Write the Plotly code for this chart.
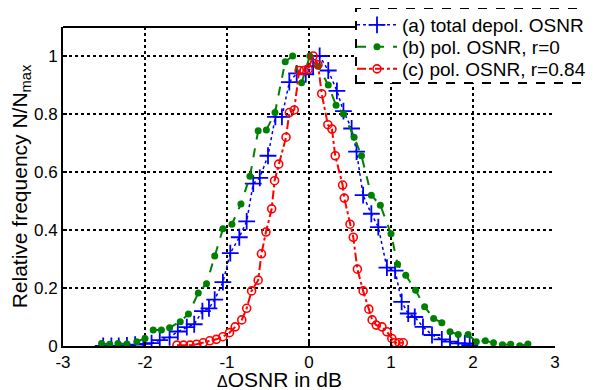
import plotly.graph_objects as go

# (a) total depol. OSNR
a_x = [-2.51, -2.41, -2.32, -2.22, -2.12, -2.02, -1.92, -1.82, -1.70, -1.60, -1.49, -1.40,
       -1.30, -1.22, -1.15, -1.05, -0.96, -0.85, -0.76, -0.68, -0.60, -0.50, -0.41, -0.33,
       -0.24, -0.15, -0.04, 0.05, 0.13, 0.235, 0.34, 0.42, 0.52, 0.58, 0.66, 0.76, 0.845,
       0.95, 1.05, 1.13, 1.21, 1.29, 1.39, 1.50, 1.62, 1.72, 1.82, 1.90, 1.96]
a_y = [0.0, 0.0, 0.0, 0.002, 0.005, 0.007, 0.01, 0.02, 0.03, 0.05, 0.065, 0.075,
       0.12, 0.13, 0.16, 0.22, 0.32, 0.375, 0.43, 0.56, 0.58, 0.656, 0.79, 0.79,
       0.91, 0.94, 0.937, 0.965, 1.0, 0.95, 0.88, 0.81, 0.75, 0.67, 0.52, 0.456, 0.41,
       0.27, 0.26, 0.152, 0.112, 0.10, 0.066, 0.038, 0.023, 0.015, 0.009, 0.009, 0.003]

# (b) pol. OSNR, r=0
b_x = [-2.53, -2.43, -2.33, -2.22, -2.10, -2.00, -1.90, -1.80, -1.70, -1.57, -1.47, -1.35,
       -1.25, -1.15, -1.05, -0.94, -0.83, -0.72, -0.62, -0.52, -0.415, -0.29, -0.20, -0.09,
       0.01, 0.11, 0.235, 0.33, 0.42, 0.55, 0.64, 0.76, 0.87, 1.00, 1.08, 1.18, 1.30, 1.41,
       1.52, 1.62, 1.72, 1.82, 1.94, 2.04, 2.15, 2.25, 2.36, 2.46, 2.57, 2.67]
b_y = [0.009, 0.006, 0.009, 0.007, 0.015, 0.026, 0.055, 0.055, 0.063, 0.084, 0.11, 0.183,
       0.215, 0.31, 0.404, 0.42, 0.49, 0.585, 0.742, 0.745, 0.805, 0.98, 1.0, 0.908,
       1.0, 0.965, 0.90, 0.83, 0.80, 0.72, 0.656, 0.52, 0.485, 0.387, 0.282, 0.244, 0.192, 0.135,
       0.095, 0.08, 0.049, 0.04, 0.04, 0.015, 0.018, 0.011, 0.004, 0.006, 0.001, 0.007]

# (c) pol. OSNR, r=0.84
c_x = [-1.61, -1.53, -1.45, -1.37, -1.29, -1.21, -1.13, -1.05, -0.97, -0.90, -0.82, -0.76,
       -0.70, -0.62, -0.58, -0.525, -0.455, -0.42, -0.37, -0.28, -0.24, -0.18, -0.12, -0.06,
       -0.01, 0.05, 0.11, 0.155, 0.23, 0.28, 0.32, 0.41, 0.43, 0.50, 0.54, 0.59, 0.66, 0.73,
       0.77, 0.82, 0.89, 0.95, 1.01, 1.05, 1.10, 1.15]
c_y = [0.003, 0.003, 0.003, 0.006, 0.011, 0.018, 0.023, 0.032, 0.046, 0.066, 0.09, 0.13,
       0.19, 0.227, 0.318, 0.393, 0.473, 0.57, 0.627, 0.72, 0.805, 0.814, 0.95, 0.95,
       0.954, 1.0, 0.97, 0.87, 0.763, 0.748, 0.656, 0.555, 0.51, 0.42, 0.375, 0.265, 0.19, 0.127,
       0.09, 0.072, 0.066, 0.049, 0.026, 0.011, 0.011, 0.011]

names = ["(a) total depol. OSNR", "(b) pol. OSNR, r=0", "(c) pol. OSNR, r=0.84"]
x_ticks = [-3, -2, -1, 0, 1, 2, 3]
y_ticks = [0, 0.2, 0.4, 0.6, 0.8, 1]

FONT = "Liberation Sans, Arial, sans-serif"

# The page body has an 8px margin; the figure is sized so the visible window matches.
OFF = 8
FW, FH = 594 - OFF, 390 - OFF
# plot-area geometry in window pixels
L, R, T, B = 63, 555, 27, 346
W, H = R - L, B - T
def px(x): return (x - L) / W
def py(y): return (B - y) / H

fig = go.Figure()
fig.add_trace(go.Scatter(x=a_x, y=a_y, name=names[0], mode="lines+markers", legend="legend",
                         line=dict(color="#0000ff", width=1.5, dash="dot"),
                         marker=dict(symbol="cross-thin", size=12, line=dict(color="#0000ff", width=1.8))))
fig.add_trace(go.Scatter(x=b_x, y=b_y, name=names[1], mode="lines+markers", legend="legend2",
                         line=dict(color="#008000", width=2, dash="dash"),
                         marker=dict(symbol="circle", size=7, color="#008000")))
fig.add_trace(go.Scatter(x=c_x, y=c_y, name=names[2], mode="lines+markers", legend="legend3",
                         line=dict(color="#ff0000", width=2, dash="dashdot"),
                         marker=dict(symbol="circle-open", size=8, color="#ff0000", line=dict(width=1.6))))

axis_common = dict(showgrid=True, gridcolor="black", griddash="dot", gridwidth=2,
                   zeroline=False, showline=True, linecolor="black", linewidth=2,
                   ticks="inside", ticklen=4, tickcolor="black", tickwidth=1.5,
                   tickfont=dict(family=FONT, size=17, color="black"))

leg_common = dict(xanchor="left", yanchor="middle", bgcolor="rgba(0,0,0,0)", borderwidth=0,
                  font=dict(family=FONT, size=19, color="black"), itemwidth=40)

fig.update_layout(
    width=FW, height=FH,
    margin=dict(l=L - OFF, r=FW - (R - OFF), t=T - OFF, b=FH - (B - OFF), autoexpand=False),
    paper_bgcolor="white", plot_bgcolor="white",
    font=dict(family=FONT, color="black"),
    xaxis=dict(range=[-3, 3], tickvals=x_ticks, ticktext=[str(v) for v in x_ticks], **axis_common),
    yaxis=dict(range=[0, 1.1], tickvals=y_ticks, ticktext=["0", "0.2", "0.4", "0.6", "0.8", "1"],
               title=dict(text="Relative frequency N/N<sub>max</sub>", font=dict(family=FONT, size=21), standoff=6),
               **axis_common),
    showlegend=True,
    legend=dict(x=px(352), y=py(25), **leg_common),
    legend2=dict(x=px(352), y=py(47), **leg_common),
    legend3=dict(x=px(352), y=py(69), **leg_common),
    shapes=[
        dict(type="line", xref="paper", yref="paper", x0=0, x1=1, y0=1, y1=1,
             line=dict(color="black", width=2), layer="above"),
        dict(type="rect", xref="paper", yref="paper", x0=px(356), x1=px(600), y0=py(83), y1=py(8),
             fillcolor="white", line=dict(color="black", width=2, dash="dash"), layer="above"),
    ],
    annotations=[
        dict(text="<span style='font-size:16px'>Δ</span>OSNR in dB", xref="paper", yref="paper",
             x=px(215), y=py(380), xanchor="left", yanchor="middle", showarrow=False,
             font=dict(family=FONT, size=21, color="black")),
    ],
)

fig.write_html("out.html")
